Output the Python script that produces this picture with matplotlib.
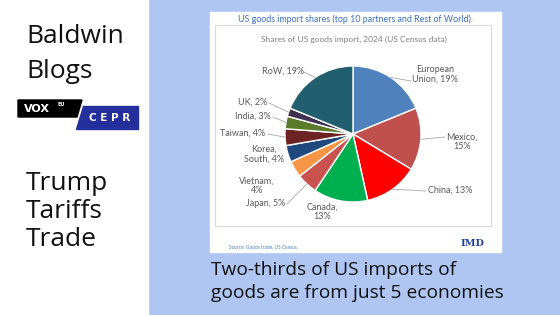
import matplotlib
matplotlib.use('Agg')
import matplotlib.pyplot as plt
from matplotlib.patches import Rectangle, Polygon
import numpy as np

# data (percent of 2024 US goods imports)
partners = ['European\nUnion', 'Mexico', 'China', 'Canada', 'Japan', 'Vietnam',
            'Korea,\nSouth', 'Taiwan', 'India', 'UK', 'RoW']
shares = [19, 15, 13, 13, 5, 4, 4, 4, 3, 2, 19]
label_text = ['European\nUnion, 19%', 'Mexico,\n15%', 'China, 13%', 'Canada,\n13%',
              'Japan, 5%', 'Vietnam,\n4%', 'Korea,\nSouth, 4%', 'Taiwan, 4%',
              'India, 3%', 'UK, 2%', 'RoW, 19%']
colors = ['#4f81bd', '#c0504d', '#ff0000', '#00b050', '#c9514e', '#f79646',
          '#1f497d', '#6b2323', '#5b7a2c', '#3f3151', '#215f6e']

W, H = 560, 315
def py(y):
    return H - y

# label centre (px), leader anchor (px) or None
lab_pos = [(435, 74), (462, 142), (450, 190), (322, 212), (266, 203), (257, 186),
           (264, 154), (243, 133), (253, 116), (253, 102), (283, 71)]
leader = [(411, 81), (445, 137), (426, 191), None, (287, 204), None,
          None, (268, 134), (273, 117), (269, 103), (304, 72)]

fig = plt.figure(figsize=(5.6, 3.15), dpi=100)
fig.patch.set_facecolor('#afc6f3')
ax = fig.add_axes([0, 0, 1, 1])
ax.set_xlim(0, W)
ax.set_ylim(0, H)
ax.axis('off')

# left white panel
ax.add_patch(Rectangle((0, 0), 148, H, color='white', zorder=0))
big = dict(fontsize=19, family='Open Sans', color='#111111', va='baseline')
ax.text(26, py(43), 'Baldwin', **big)
ax.text(26, py(78), 'Blogs', **big)
ax.text(26, py(190), 'Trump', **big)
ax.text(26, py(218), 'Tariffs', **big)
ax.text(26, py(246), 'Trade', **big)

# vox / cepr logo
ax.add_patch(Polygon([(18, py(100)), (82, py(100)), (77, py(117)), (18, py(117))],
                     color='black'))
ax.add_patch(Polygon([(83, py(106)), (138, py(106)), (138, py(129)), (76, py(129))],
                     color='#232f9a'))
ax.text(24, py(109), 'VOX', color='white', fontsize=8, fontweight='bold',
        family='DejaVu Sans', va='center')
ax.text(57, py(104), 'EU', color='white', fontsize=3.5, fontweight='bold',
        family='DejaVu Sans', va='center')
ax.text(89, py(118), 'C E P R', color='white', fontsize=7.5, fontweight='bold',
        family='DejaVu Sans', va='center')

# chart card
ax.add_patch(Rectangle((210, py(252)), 291, 240, color='white', zorder=1))
ax.add_patch(Rectangle((215, py(226)), 276, 201, facecolor='white',
                       edgecolor='#d9d9d9', lw=0.8, zorder=1))
ax.text(238, py(19), 'US goods import shares (top 10 partners and Rest of World).',
        color='#3c6ec4', fontsize=6.4, family='Lato', va='center', zorder=3)
ax.text(354, py(39), 'Shares of US goods import, 2024 (US Census data)',
        color='#7f7f7f', fontsize=6.0, family='Lato', ha='center', va='center', zorder=3)
ax.text(229, py(247), 'Source: Goods trade, US Census.', color='#4f81bd',
        fontsize=3.4, family='Lato', va='center', zorder=3)
ax.text(472, py(243), 'IMD', color='#22439a', fontsize=7, fontweight='bold',
        family='DejaVu Serif', ha='center', va='center', zorder=3)

cx, cy, r = 353, py(134), 68
wedges, _ = ax.pie(shares, colors=colors, startangle=90, counterclock=False,
                   center=(cx, cy), radius=r,
                   wedgeprops=dict(edgecolor='white', linewidth=1, zorder=2))
ax.set_xlim(0, W)
ax.set_ylim(0, H)
ax.set_aspect('auto')

for w, txt, (lx, ly), anc in zip(wedges, label_text, lab_pos, leader):
    ax.text(lx, py(ly), txt, color='#595959', fontsize=6.5, family='Lato',
            ha='center', va='center', linespacing=1.1, zorder=3)
    if anc is not None:
        mid = np.deg2rad((w.theta1 + w.theta2) / 2)
        ex, ey = cx + r * np.cos(mid), cy + r * np.sin(mid)
        ax.plot([anc[0], ex], [py(anc[1]), ey], color='#a6a6a6', lw=0.6, zorder=3)

# caption
cap = dict(fontsize=13.8, family='Open Sans', color='#111111', va='baseline')
ax.text(211, py(275), 'Two-thirds of US imports of', **cap)
ax.text(211, py(298), 'goods are from just 5 economies', **cap)

fig.savefig('out.png', dpi=100, facecolor=fig.get_facecolor())
